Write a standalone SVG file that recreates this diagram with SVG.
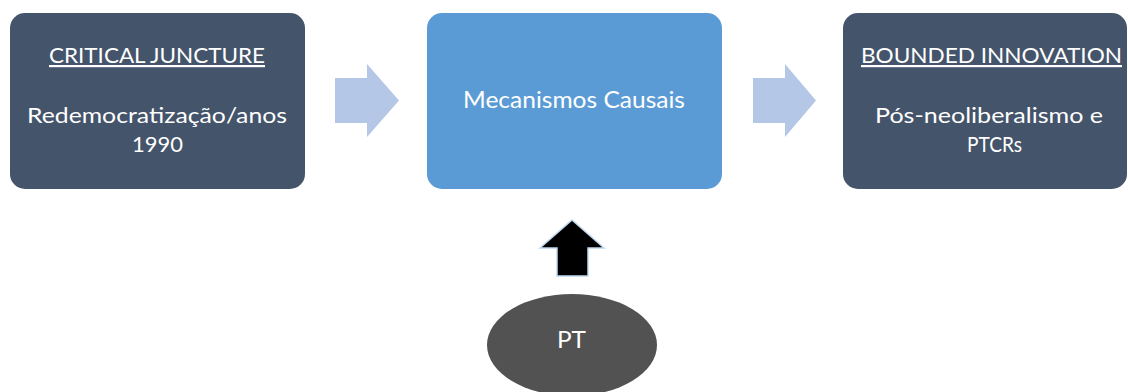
<svg xmlns="http://www.w3.org/2000/svg" width="1128" height="392" viewBox="0 0 1128 392">
  <style>
    .dark { fill: #44546a; }
    .t { font-family: Lato, "Open Sans", "Liberation Sans", sans-serif; font-weight: 400; fill: #ffffff; text-anchor: middle; }
    .s20 { font-size: 22px; }
    .s23 { font-size: 23px; }
    .u { text-decoration: underline; }
    .flow { fill: #b4c7e7; }
  </style>
  <rect width="1128" height="392" fill="#ffffff"/>
  <g id="connectors">
    <polygon class="flow" points="335,78 367,78 367,64 399,100.5 367,137 367,123 335,123"/>
    <polygon class="flow" points="753,78 785,78 785,64 816,100.5 785,137 785,123 753,123"/>
    <polygon points="572,220 604,248 588,248 588,276 557,276 557,248 540,248" fill="#000000" stroke="#bdd7ee" stroke-width="1.5" stroke-linejoin="miter"/>
  </g>
  <g id="critical-juncture">
    <rect class="dark" x="10" y="13" width="295" height="176" rx="15"/>
    <text class="t s20 u" x="157" y="63" textLength="216" lengthAdjust="spacingAndGlyphs">CRITICAL JUNCTURE</text>
    <text class="t s20" x="157" y="123" textLength="260" lengthAdjust="spacingAndGlyphs">Redemocratização/anos</text>
    <text class="t s20" x="157.5" y="152" textLength="51" lengthAdjust="spacingAndGlyphs">1990</text>
  </g>
  <g id="mecanismos-causais">
    <rect x="427" y="13" width="295" height="176" rx="15" fill="#5b9bd5"/>
    <text class="t s23" x="574" y="108" textLength="222" lengthAdjust="spacingAndGlyphs">Mecanismos Causais</text>
  </g>
  <g id="bounded-innovation">
    <rect class="dark" x="843" y="13" width="284" height="176" rx="15"/>
    <text class="t s20 u" x="991.5" y="63" textLength="261" lengthAdjust="spacingAndGlyphs">BOUNDED INNOVATION</text>
    <text class="t s20" x="989" y="123" textLength="228" lengthAdjust="spacingAndGlyphs">Pós-neoliberalismo e</text>
    <text class="t s20" x="994.5" y="152" textLength="55" lengthAdjust="spacingAndGlyphs">PTCRs</text>
  </g>
  <g id="pt">
    <ellipse cx="572" cy="345" rx="85" ry="51" fill="#525252"/>
    <text class="t s23" x="571.5" y="348" textLength="29" lengthAdjust="spacingAndGlyphs">PT</text>
  </g>
</svg>
